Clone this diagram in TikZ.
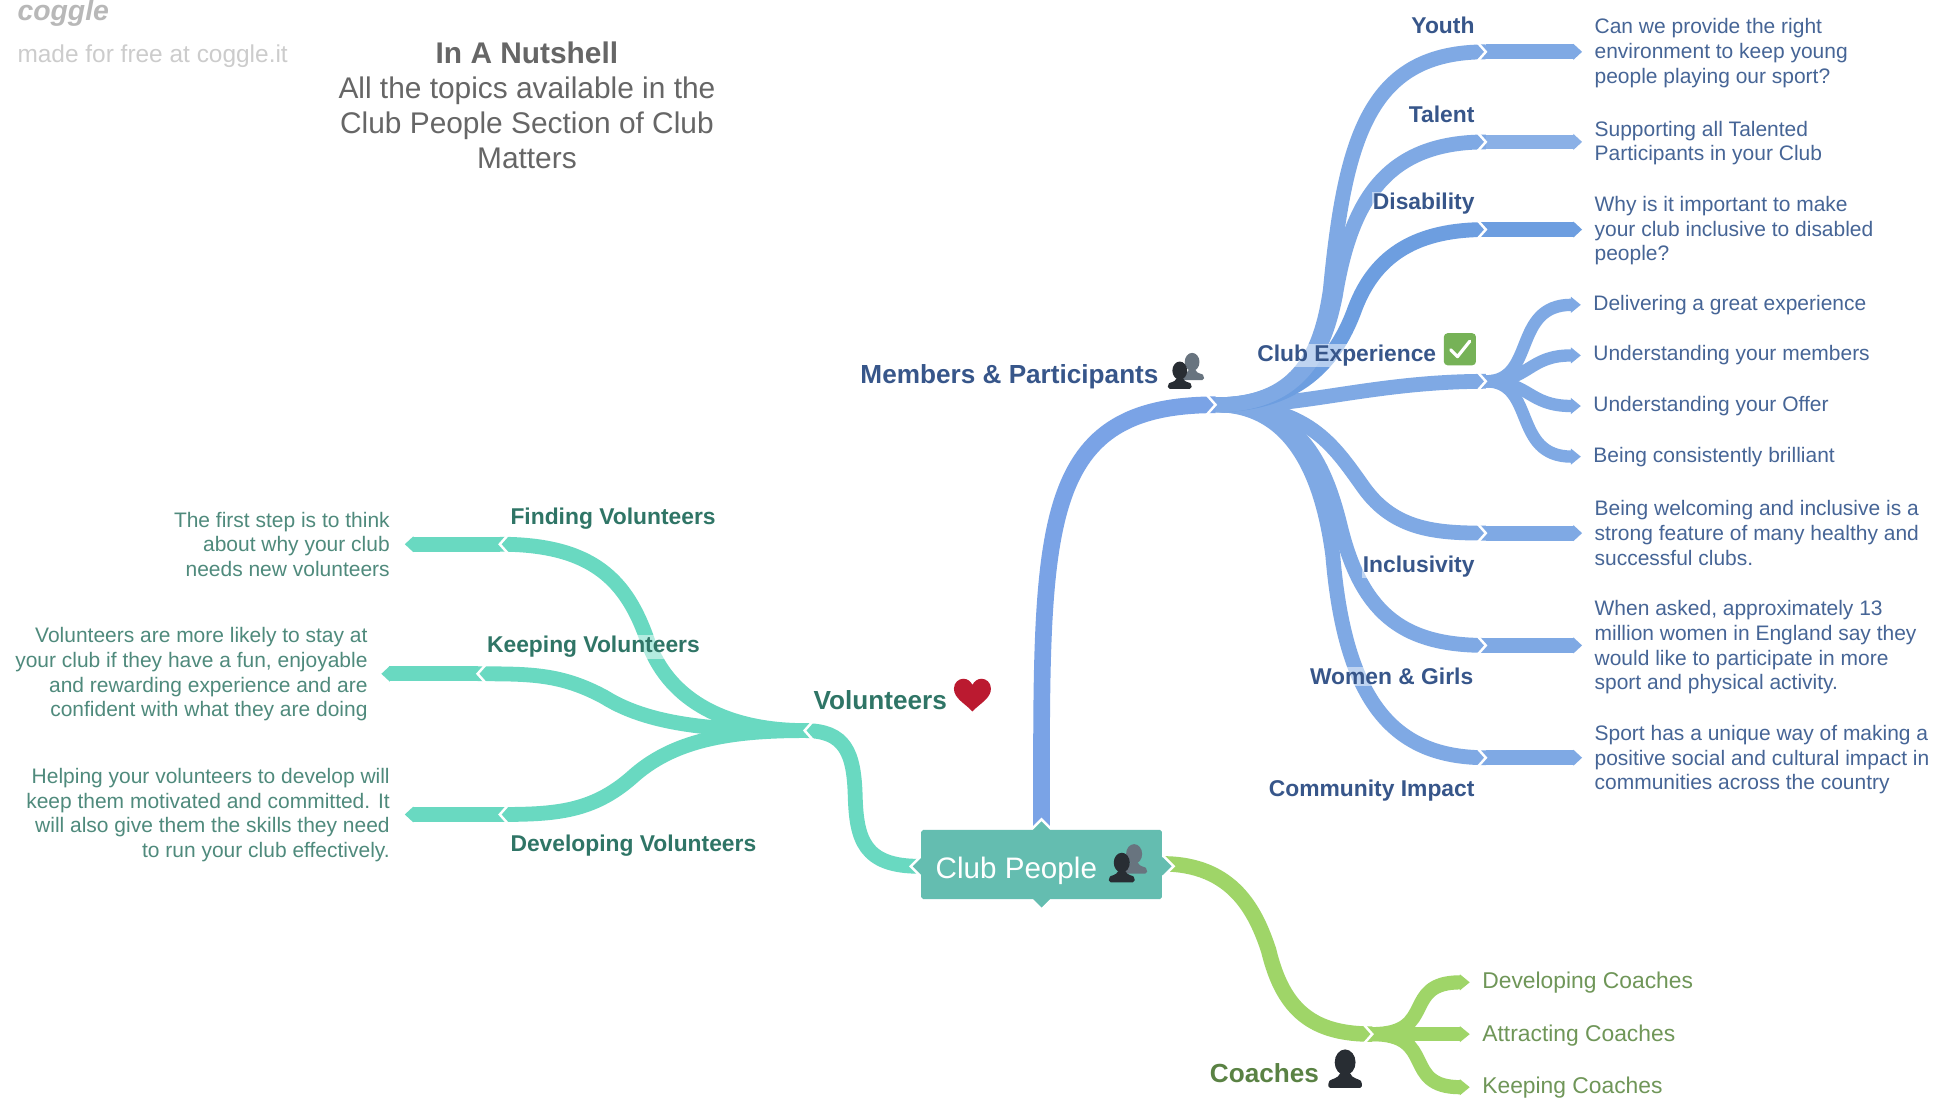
\documentclass[tikz,border=0pt]{standalone}
\usepackage{fontspec}
\setmainfont{Liberation Sans}
\usetikzlibrary{arrows.meta}
\definecolor{cMain}{HTML}{7AA3E6}
\definecolor{cSub}{HTML}{7FA9E4}
\definecolor{cDis}{HTML}{6D9EE0}
\definecolor{cTal}{HTML}{8AB0E6}
\definecolor{cTeal}{HTML}{69D9C1}
\definecolor{cGreen}{HTML}{9FD568}
\definecolor{cRoot}{HTML}{64BDB0}
\definecolor{tBlue}{HTML}{466596}
\definecolor{tBlueB}{HTML}{37568A}
\definecolor{tTeal}{HTML}{4F8A7C}
\definecolor{tTealB}{HTML}{2F7566}
\definecolor{tGreen}{HTML}{6F9658}
\definecolor{tGreenB}{HTML}{5A8244}
\definecolor{tGrey}{HTML}{666666}
\definecolor{cDark}{HTML}{282D33}
\definecolor{cGrey}{HTML}{68747F}
\definecolor{cHeart}{HTML}{BB1A30}
\definecolor{cCheck}{HTML}{76B257}
\tikzset{
  x=1pt,y=-1pt,
  br/.style={line width=#1,line cap=butt},
  blueB/.style={draw=cSub,br=12pt},
  tealB/.style={draw=cTeal,br=12pt},
  greenB/.style={draw=cGreen,br=12.5pt},
  tipped/.style={-{Triangle[length=7pt,width=12.5pt]}},
  tippedleaf/.style={-{Triangle[length=8pt,width=12.5pt]}},
  txt/.style={inner sep=0pt,font=\fontsize{#1}{20pt}\selectfont},
  bdesc/.style={txt=17pt,text=tBlue,anchor=west,align=left},
  tdesc/.style={txt=17pt,text=tTeal,anchor=east,align=right},
  gdesc/.style={txt=18.5pt,text=tGreen,anchor=west},
  blab/.style={inner sep=1pt,fill=white,fill opacity=.5,text opacity=1,text=tBlueB,font=\fontsize{18.5pt}{22pt}\selectfont\bfseries,anchor=east},
  tlab/.style={inner sep=1pt,fill=white,fill opacity=.5,text opacity=1,text=tTealB,font=\fontsize{18.5pt}{22pt}\selectfont\bfseries,anchor=west},
  head/.style={inner sep=0pt,font=\fontsize{21.2pt}{24pt}\selectfont\bfseries},
  chevr/.pic={\draw[white,line width=2pt] (-8,-9)--(0,0)--(-8,9);},
  chevl/.pic={\draw[white,line width=2pt] (8,-9)--(0,0)--(8,9);},
  person/.pic={
    \fill[pic actions] (0,-4) ellipse (6.5 and 8);
    \fill[pic actions,rounded corners=1.5pt] (-10.5,12) -- (-10.5,8.5) .. controls (-9,6.5) and (-4,6) .. (-3,2) -- (3,2) .. controls (4,6) and (9,6.5) .. (10.5,8.5) -- (10.5,12) -- cycle;
  },
}
\begin{document}
\begin{tikzpicture}
\useasboundingbox (0,0) rectangle (1568,889.75);
\fill[white] (0,0) rectangle (1568,889.75);

% junctions and free ends
\coordinate (rootT) at (844,678);
\coordinate (rootL) at (745,702);
\coordinate (rootR) at (942,700);
\coordinate (jM) at (985,328);
\coordinate (jV) at (652,592);
\coordinate (jG) at (1112,838);
\foreach \n/\y in {Y/42,T/115,D/186,E/309,I/432,W/523,C/614}{
  \coordinate (j\n) at (1204,\y);
  \coordinate (e\n) at (1282,\y);
}
\coordinate (l1) at (1281,247);
\coordinate (l2) at (1281,288);
\coordinate (l3) at (1281,329);
\coordinate (l4) at (1281,370);
\coordinate (jF) at (405,441);  \coordinate (eF) at (328,441);
\coordinate (jK) at (387,546);  \coordinate (eK) at (309,546);
\coordinate (jP) at (405,660);  \coordinate (eP) at (328,660);
\coordinate (g1) at (1191,796);
\coordinate (g2) at (1191,838);
\coordinate (g3) at (1191,881);

% blue tree
\draw[draw=cMain,br=13.5pt] (rootT) .. controls (844,430) and (838,328) .. (jM);
\draw[blueB] (jM) .. controls (1050,328) and (1072,390) .. (1080,450) .. controls (1090,570) and (1130,614) .. (jC);
\draw[blueB] (jM) .. controls (1055,328) and (1075,380) .. (1087,430) .. controls (1105,500) and (1140,523) .. (jW);
\draw[blueB] (jM) .. controls (1060,328) and (1080,360) .. (1105,395) .. controls (1130,430) and (1165,432) .. (jI);
\draw[blueB] (jM) .. controls (1050,332) and (1110,309) .. (jE);
\draw[blueB,draw=cDis] (jM) .. controls (1045,328) and (1080,300) .. (1098,250) .. controls (1115,205) and (1150,186) .. (jD);
\draw[blueB] (jM) .. controls (1050,328) and (1072,290) .. (1082,240) .. controls (1095,160) and (1125,115) .. (jT);
\draw[blueB] (jM) .. controls (1050,328) and (1070,290) .. (1078,235) .. controls (1090,110) and (1110,42) .. (jY);
\draw[blueB,tipped] (jY) -- (eY);
\draw[blueB,tipped,draw=cTal,fill=cTal] (jT) -- (eT);
\draw[blueB,tipped,draw=cDis,fill=cDis] (jD) -- (eD);
\draw[blueB,tipped] (jI) -- (eI);
\draw[blueB,tipped] (jW) -- (eW);
\draw[blueB,tipped] (jC) -- (eC);
\draw[blueB,br=10pt,tippedleaf] (jE) .. controls (1245,309) and (1225,247) .. (l1);
\draw[blueB,br=10pt,tippedleaf] (jE) .. controls (1240,309) and (1238,288) .. (l2);
\draw[blueB,br=10pt,tippedleaf] (jE) .. controls (1240,309) and (1238,329) .. (l3);
\draw[blueB,br=10pt,tippedleaf] (jE) .. controls (1245,309) and (1225,370) .. (l4);
\foreach \n in {M,Y,T,D,E,I,W,C}{\pic at (j\n) {chevr};}

% teal tree
\draw[tealB] (rootL) .. controls (700,702) and (694,680) .. (693,645) .. controls (692,610) and (685,592) .. (jV);
\draw[tealB] (jV) .. controls (600,592) and (545,575) .. (525,520) .. controls (508,470) and (480,441) .. (jF);
\draw[tealB] (jV) .. controls (590,592) and (530,590) .. (490,565) .. controls (455,546) and (430,546) .. (jK);
\draw[tealB] (jV) .. controls (590,592) and (545,600) .. (512,630) .. controls (480,658) and (450,660) .. (jP);
\draw[tealB,tipped] (jF) -- (eF);
\draw[tealB,tipped] (jK) -- (eK);
\draw[tealB,tipped] (jP) -- (eP);
\foreach \n in {V,F,K,P}{\pic at (j\n) {chevl};}

% green tree
\draw[greenB] (rootR) .. controls (1000,700) and (1018,740) .. (1028,770) .. controls (1040,820) and (1065,838) .. (jG);
\draw[greenB,br=11.5pt,tippedleaf] (jG) .. controls (1165,838) and (1135,796) .. (g1);
\draw[greenB,br=11.5pt,tippedleaf] (jG) -- (g2);
\draw[greenB,br=11.5pt,tippedleaf] (jG) .. controls (1165,838) and (1135,881) .. (g3);
\pic at (jG) {chevr};

% root
\foreach \p in {(844,673),(844,728),(747,702),(942,702)}{
  \draw[white,line width=2pt,fill=cRoot] \p ++(-9,0) -- ++(9,-9) -- ++(9,9) -- ++(-9,9) -- cycle;
}
\node[fill=cRoot,rounded corners=1.5pt,minimum width=195pt,minimum height=56pt,inner sep=0pt] (root) at (844,700.5) {};
\node[inner sep=0pt,anchor=west,text=white,font=\fontsize{24pt}{28pt}\selectfont] (rootT2) at (758,705.5) {Club People};
\pic[cGrey] at (919,696) {person};
\pic[cDark] at (909,703) {person};

% logo and title
\node[inner sep=0pt,anchor=base west,text=black!28,font=\fontsize{23pt}{24pt}\selectfont\itshape\bfseries] (logo) at (14,17) {coggle};
\node[inner sep=0pt,anchor=west,text=black!20,font=\fontsize{19.8pt}{24pt}\selectfont] (made) at (14,45.5) {made for free at coggle.it};
\node[inner sep=0pt,align=center,text=tGrey,font=\fontsize{24.2pt}{28.4pt}\selectfont] (title) at (427,85) {{\bfseries In A Nutshell}\\All the topics available in the\\Club People Section of Club\\Matters};

% blue labels
\node[blab] (tY) at (1196,20.5) {Youth};
\node[blab] (tT) at (1196,93) {Talent};
\node[blab] (tD) at (1196,165) {Disability};
\node[blab] (tE) at (1165,288) {Club Experience};
\node[blab] (tI) at (1196,459) {Inclusivity};
\node[blab] (tW) at (1195,548) {Women \& Girls};
\node[blab] (tC) at (1196,641) {Community Impact};
\node[bdesc] (dY) at (1292,43) {Can we provide the right\\environment to keep young\\people playing our sport?};
\node[bdesc] (dT) at (1292,116) {Supporting all Talented\\Participants in your Club};
\node[bdesc] (dD) at (1292,187) {Why is it important to make\\your club inclusive to disabled\\people?};
\node[bdesc] (d1) at (1291,247) {Delivering a great experience};
\node[bdesc] (d2) at (1291,288) {Understanding your members};
\node[bdesc] (d3) at (1291,329) {Understanding your Offer};
\node[bdesc] (d4) at (1291,370) {Being consistently brilliant};
\node[bdesc] (dI) at (1292,432) {Being welcoming and inclusive is a\\strong feature of many healthy and\\successful clubs.};
\node[bdesc] (dW) at (1292,524.5) {When asked, approximately 13\\million women in England say they\\would like to participate in more\\sport and physical activity.};
\node[bdesc] (dC) at (1292,615.5) {Sport has a unique way of making a\\positive social and cultural impact in\\communities across the country};

% teal labels
\node[tlab] (tF) at (412.5,420) {Finding Volunteers};
\node[tlab] (tK) at (393.5,524) {Keeping Volunteers};
\node[tlab] (tP) at (412.5,685) {Developing Volunteers};
\node[tdesc] (dF) at (316,441) {The first step is to think\\about why your club\\needs new volunteers};
\node[tdesc] (dK) at (298,546.5) {Volunteers are more likely to stay at\\your club if they have a fun, enjoyable\\and rewarding experience and are\\confident with what they are doing};
\node[tdesc] (dP) at (316,660.5) {Helping your volunteers to develop will\\keep them motivated and committed. It\\will also give them the skills they need\\to run your club effectively.};

% green labels
\node[gdesc] (g1t) at (1201,796) {Developing Coaches};
\node[gdesc] (g2t) at (1201,839) {Attracting Coaches};
\node[gdesc] (g3t) at (1201,881.5) {Keeping Coaches};

% headings and icons
\node[head,text=tBlueB,anchor=east] (hM) at (939,305) {Members \& Participants};
\pic[cGrey,scale=.92] at (966,297) {person};
\pic[cDark,scale=.92] at (956,304) {person};
\node[head,text=tTealB,anchor=east] (hV) at (767.5,567) {Volunteers};
\fill[cHeart] (788,576.5) .. controls (782,570) and (773,566) .. (773,558) .. controls (773,553) and (777,550) .. (780.5,550) .. controls (784,550) and (786.5,552) .. (788,555) .. controls (789.5,552) and (792,550) .. (795.5,550) .. controls (799,550) and (803,553) .. (803,558) .. controls (803,566) and (794,570) .. (788,576.5) -- cycle;
\node[head,text=tGreenB,anchor=east] (hC) at (1069,870) {Coaches};
\pic[cDark,scale=1.3] at (1090,866) {person};
\fill[cCheck,rounded corners=3pt] (1170,270) rectangle (1196,296);
\draw[white,line width=2.6pt,line cap=round,line join=round] (1175.5,283.5) -- (1181,289) -- (1191,276.5);
\end{tikzpicture}
\end{document}
